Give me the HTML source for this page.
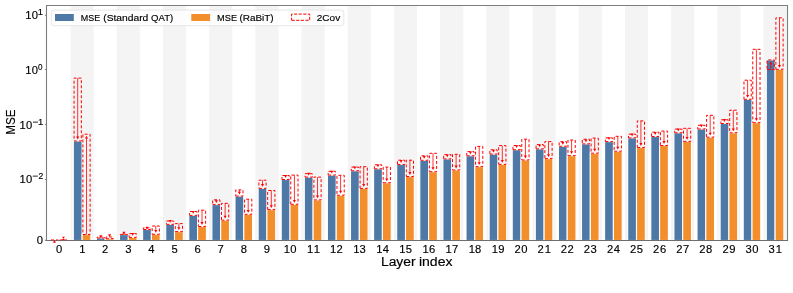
<!DOCTYPE html>
<html><head><meta charset="utf-8"><style>
html,body{margin:0;padding:0;background:#fff;}
body{width:793px;height:293px;overflow:hidden;}
svg{display:block;will-change:transform;font-family:"Liberation Sans",sans-serif;}
svg text{fill:#000;stroke:#000;stroke-width:0.15px;}
</style></head><body>
<svg width="793" height="293" viewBox="0 0 793 293">
<rect x="0" y="0" width="793" height="293" fill="#ffffff"/>
<defs><clipPath id="ax"><rect x="46.50" y="5.50" width="741.00" height="234.80"/></clipPath></defs>
<g clip-path="url(#ax)">
<rect x="70.55" y="5.50" width="23.10" height="234.80" fill="#f4f4f4"/>
<rect x="116.75" y="5.50" width="23.10" height="234.80" fill="#f4f4f4"/>
<rect x="162.95" y="5.50" width="23.10" height="234.80" fill="#f4f4f4"/>
<rect x="209.15" y="5.50" width="23.10" height="234.80" fill="#f4f4f4"/>
<rect x="255.35" y="5.50" width="23.10" height="234.80" fill="#f4f4f4"/>
<rect x="301.55" y="5.50" width="23.10" height="234.80" fill="#f4f4f4"/>
<rect x="347.75" y="5.50" width="23.10" height="234.80" fill="#f4f4f4"/>
<rect x="393.95" y="5.50" width="23.10" height="234.80" fill="#f4f4f4"/>
<rect x="440.15" y="5.50" width="23.10" height="234.80" fill="#f4f4f4"/>
<rect x="486.35" y="5.50" width="23.10" height="234.80" fill="#f4f4f4"/>
<rect x="532.55" y="5.50" width="23.10" height="234.80" fill="#f4f4f4"/>
<rect x="578.75" y="5.50" width="23.10" height="234.80" fill="#f4f4f4"/>
<rect x="624.95" y="5.50" width="23.10" height="234.80" fill="#f4f4f4"/>
<rect x="671.15" y="5.50" width="23.10" height="234.80" fill="#f4f4f4"/>
<rect x="717.35" y="5.50" width="23.10" height="234.80" fill="#f4f4f4"/>
<rect x="763.55" y="5.50" width="23.10" height="234.80" fill="#f4f4f4"/>
<rect x="73.30" y="141.00" width="8.80" height="99.50" fill="#4e79a7" stroke="#fff" stroke-width="1.1"/>
<rect x="82.10" y="234.50" width="8.80" height="6.00" fill="#f28e2b" stroke="#fff" stroke-width="1.1"/>
<rect x="96.40" y="238.00" width="8.80" height="2.50" fill="#4e79a7" stroke="#fff" stroke-width="1.1"/>
<rect x="105.20" y="238.70" width="8.80" height="1.80" fill="#f28e2b" stroke="#fff" stroke-width="1.1"/>
<rect x="119.50" y="234.60" width="8.80" height="5.90" fill="#4e79a7" stroke="#fff" stroke-width="1.1"/>
<rect x="128.30" y="237.40" width="8.80" height="3.10" fill="#f28e2b" stroke="#fff" stroke-width="1.1"/>
<rect x="142.60" y="229.50" width="8.80" height="11.00" fill="#4e79a7" stroke="#fff" stroke-width="1.1"/>
<rect x="151.40" y="234.30" width="8.80" height="6.20" fill="#f28e2b" stroke="#fff" stroke-width="1.1"/>
<rect x="165.70" y="224.40" width="8.80" height="16.10" fill="#4e79a7" stroke="#fff" stroke-width="1.1"/>
<rect x="174.50" y="231.60" width="8.80" height="8.90" fill="#f28e2b" stroke="#fff" stroke-width="1.1"/>
<rect x="188.80" y="215.40" width="8.80" height="25.10" fill="#4e79a7" stroke="#fff" stroke-width="1.1"/>
<rect x="197.60" y="226.50" width="8.80" height="14.00" fill="#f28e2b" stroke="#fff" stroke-width="1.1"/>
<rect x="211.90" y="204.60" width="8.80" height="35.90" fill="#4e79a7" stroke="#fff" stroke-width="1.1"/>
<rect x="220.70" y="220.20" width="8.80" height="20.30" fill="#f28e2b" stroke="#fff" stroke-width="1.1"/>
<rect x="235.00" y="196.10" width="8.80" height="44.40" fill="#4e79a7" stroke="#fff" stroke-width="1.1"/>
<rect x="243.80" y="214.30" width="8.80" height="26.20" fill="#f28e2b" stroke="#fff" stroke-width="1.1"/>
<rect x="258.10" y="188.40" width="8.80" height="52.10" fill="#4e79a7" stroke="#fff" stroke-width="1.1"/>
<rect x="266.90" y="209.60" width="8.80" height="30.90" fill="#f28e2b" stroke="#fff" stroke-width="1.1"/>
<rect x="281.20" y="179.50" width="8.80" height="61.00" fill="#4e79a7" stroke="#fff" stroke-width="1.1"/>
<rect x="290.00" y="204.30" width="8.80" height="36.20" fill="#f28e2b" stroke="#fff" stroke-width="1.1"/>
<rect x="304.30" y="177.10" width="8.80" height="63.40" fill="#4e79a7" stroke="#fff" stroke-width="1.1"/>
<rect x="313.10" y="199.90" width="8.80" height="40.60" fill="#f28e2b" stroke="#fff" stroke-width="1.1"/>
<rect x="327.40" y="175.10" width="8.80" height="65.40" fill="#4e79a7" stroke="#fff" stroke-width="1.1"/>
<rect x="336.20" y="195.20" width="8.80" height="45.30" fill="#f28e2b" stroke="#fff" stroke-width="1.1"/>
<rect x="350.50" y="170.80" width="8.80" height="69.70" fill="#4e79a7" stroke="#fff" stroke-width="1.1"/>
<rect x="359.30" y="188.40" width="8.80" height="52.10" fill="#f28e2b" stroke="#fff" stroke-width="1.1"/>
<rect x="373.60" y="168.80" width="8.80" height="71.70" fill="#4e79a7" stroke="#fff" stroke-width="1.1"/>
<rect x="382.40" y="182.80" width="8.80" height="57.70" fill="#f28e2b" stroke="#fff" stroke-width="1.1"/>
<rect x="396.70" y="164.50" width="8.80" height="76.00" fill="#4e79a7" stroke="#fff" stroke-width="1.1"/>
<rect x="405.50" y="176.50" width="8.80" height="64.00" fill="#f28e2b" stroke="#fff" stroke-width="1.1"/>
<rect x="419.80" y="160.30" width="8.80" height="80.20" fill="#4e79a7" stroke="#fff" stroke-width="1.1"/>
<rect x="428.60" y="171.70" width="8.80" height="68.80" fill="#f28e2b" stroke="#fff" stroke-width="1.1"/>
<rect x="442.90" y="158.90" width="8.80" height="81.60" fill="#4e79a7" stroke="#fff" stroke-width="1.1"/>
<rect x="451.70" y="170.00" width="8.80" height="70.50" fill="#f28e2b" stroke="#fff" stroke-width="1.1"/>
<rect x="466.00" y="155.80" width="8.80" height="84.70" fill="#4e79a7" stroke="#fff" stroke-width="1.1"/>
<rect x="474.80" y="166.60" width="8.80" height="73.90" fill="#f28e2b" stroke="#fff" stroke-width="1.1"/>
<rect x="489.10" y="154.10" width="8.80" height="86.40" fill="#4e79a7" stroke="#fff" stroke-width="1.1"/>
<rect x="497.90" y="164.40" width="8.80" height="76.10" fill="#f28e2b" stroke="#fff" stroke-width="1.1"/>
<rect x="512.20" y="149.70" width="8.80" height="90.80" fill="#4e79a7" stroke="#fff" stroke-width="1.1"/>
<rect x="521.00" y="160.00" width="8.80" height="80.50" fill="#f28e2b" stroke="#fff" stroke-width="1.1"/>
<rect x="535.30" y="148.90" width="8.80" height="91.60" fill="#4e79a7" stroke="#fff" stroke-width="1.1"/>
<rect x="544.10" y="158.60" width="8.80" height="81.90" fill="#f28e2b" stroke="#fff" stroke-width="1.1"/>
<rect x="558.40" y="146.30" width="8.80" height="94.20" fill="#4e79a7" stroke="#fff" stroke-width="1.1"/>
<rect x="567.20" y="155.70" width="8.80" height="84.80" fill="#f28e2b" stroke="#fff" stroke-width="1.1"/>
<rect x="581.50" y="143.90" width="8.80" height="96.60" fill="#4e79a7" stroke="#fff" stroke-width="1.1"/>
<rect x="590.30" y="153.20" width="8.80" height="87.30" fill="#f28e2b" stroke="#fff" stroke-width="1.1"/>
<rect x="604.60" y="141.60" width="8.80" height="98.90" fill="#4e79a7" stroke="#fff" stroke-width="1.1"/>
<rect x="613.40" y="151.20" width="8.80" height="89.30" fill="#f28e2b" stroke="#fff" stroke-width="1.1"/>
<rect x="627.70" y="137.90" width="8.80" height="102.60" fill="#4e79a7" stroke="#fff" stroke-width="1.1"/>
<rect x="636.50" y="147.50" width="8.80" height="93.00" fill="#f28e2b" stroke="#fff" stroke-width="1.1"/>
<rect x="650.80" y="136.50" width="8.80" height="104.00" fill="#4e79a7" stroke="#fff" stroke-width="1.1"/>
<rect x="659.60" y="145.50" width="8.80" height="95.00" fill="#f28e2b" stroke="#fff" stroke-width="1.1"/>
<rect x="673.90" y="132.80" width="8.80" height="107.70" fill="#4e79a7" stroke="#fff" stroke-width="1.1"/>
<rect x="682.70" y="141.40" width="8.80" height="99.10" fill="#f28e2b" stroke="#fff" stroke-width="1.1"/>
<rect x="697.00" y="129.00" width="8.80" height="111.50" fill="#4e79a7" stroke="#fff" stroke-width="1.1"/>
<rect x="705.80" y="137.20" width="8.80" height="103.30" fill="#f28e2b" stroke="#fff" stroke-width="1.1"/>
<rect x="720.10" y="123.50" width="8.80" height="117.00" fill="#4e79a7" stroke="#fff" stroke-width="1.1"/>
<rect x="728.90" y="132.80" width="8.80" height="107.70" fill="#f28e2b" stroke="#fff" stroke-width="1.1"/>
<rect x="743.20" y="99.30" width="8.80" height="141.20" fill="#4e79a7" stroke="#fff" stroke-width="1.1"/>
<rect x="752.00" y="122.70" width="8.80" height="117.80" fill="#f28e2b" stroke="#fff" stroke-width="1.1"/>
<rect x="766.30" y="59.90" width="8.80" height="180.60" fill="#4e79a7" stroke="#fff" stroke-width="1.1"/>
<rect x="775.10" y="69.30" width="8.80" height="171.20" fill="#f28e2b" stroke="#fff" stroke-width="1.1"/>
</g>
<path d="M46.50 241.00L46.50 5.50L787.50 5.50L787.50 241.00" fill="none" stroke="#7d7d7d" stroke-width="1.1"/>
<line x1="45.95" y1="240.5" x2="788.05" y2="240.5" stroke="#6e6e6e" stroke-width="1.05"/>
<path d="M74.07 141.00L81.32 141.00L81.32 78.10L74.07 78.10Z" fill="none" stroke="#ff0000" stroke-width="1" stroke-dasharray="3 2"/>
<line x1="77.70" y1="78.10" x2="77.70" y2="137.10" stroke="#ff0000" stroke-width="0.8"/>
<path d="M76.15 136.60L79.25 136.60L77.70 139.40Z" fill="#ff0000"/>
<path d="M82.88 234.50L90.12 234.50L90.12 134.20L82.88 134.20Z" fill="none" stroke="#ff0000" stroke-width="1" stroke-dasharray="3 2"/>
<line x1="86.50" y1="234.50" x2="86.50" y2="138.10" stroke="#ff0000" stroke-width="0.8"/>
<path d="M84.95 138.60L88.05 138.60L86.50 135.80Z" fill="#ff0000"/>
<path d="M97.17 238.00L104.42 238.00L104.42 237.00L97.17 237.00Z" fill="none" stroke="#ff0000" stroke-width="1" stroke-dasharray="3 2"/>
<path d="M99.25 235.20L102.35 235.20L100.80 238.00Z" fill="#ff0000"/>
<path d="M105.98 238.70L113.23 238.70L113.23 237.00L105.98 237.00Z" fill="none" stroke="#ff0000" stroke-width="1" stroke-dasharray="3 2"/>
<path d="M108.05 234.30L111.15 234.30L109.60 237.10Z" fill="#ff0000"/>
<path d="M120.28 234.60L127.53 234.60L127.53 234.00L120.28 234.00Z" fill="none" stroke="#ff0000" stroke-width="1" stroke-dasharray="3 2"/>
<path d="M122.35 231.80L125.45 231.80L123.90 234.60Z" fill="#ff0000"/>
<path d="M129.08 237.40L136.33 237.40L136.33 233.60L129.08 233.60Z" fill="none" stroke="#ff0000" stroke-width="1" stroke-dasharray="3 2"/>
<path d="M131.15 233.00L134.25 233.00L132.70 235.80Z" fill="#ff0000"/>
<path d="M143.38 229.50L150.62 229.50L150.62 227.90L143.38 227.90Z" fill="none" stroke="#ff0000" stroke-width="1" stroke-dasharray="3 2"/>
<path d="M145.45 226.70L148.55 226.70L147.00 229.50Z" fill="#ff0000"/>
<path d="M152.18 234.30L159.43 234.30L159.43 226.00L152.18 226.00Z" fill="none" stroke="#ff0000" stroke-width="1" stroke-dasharray="3 2"/>
<line x1="155.80" y1="226.00" x2="155.80" y2="230.40" stroke="#ff0000" stroke-width="0.8"/>
<path d="M154.25 229.90L157.35 229.90L155.80 232.70Z" fill="#ff0000"/>
<path d="M166.47 224.40L173.72 224.40L173.72 221.00L166.47 221.00Z" fill="none" stroke="#ff0000" stroke-width="1" stroke-dasharray="3 2"/>
<path d="M168.55 220.00L171.65 220.00L170.10 222.80Z" fill="#ff0000"/>
<path d="M175.28 231.60L182.53 231.60L182.53 223.60L175.28 223.60Z" fill="none" stroke="#ff0000" stroke-width="1" stroke-dasharray="3 2"/>
<line x1="178.90" y1="223.60" x2="178.90" y2="227.70" stroke="#ff0000" stroke-width="0.8"/>
<path d="M177.35 227.20L180.45 227.20L178.90 230.00Z" fill="#ff0000"/>
<path d="M189.58 215.40L196.83 215.40L196.83 211.50L189.58 211.50Z" fill="none" stroke="#ff0000" stroke-width="1" stroke-dasharray="3 2"/>
<path d="M191.65 211.00L194.75 211.00L193.20 213.80Z" fill="#ff0000"/>
<path d="M198.38 226.50L205.63 226.50L205.63 210.20L198.38 210.20Z" fill="none" stroke="#ff0000" stroke-width="1" stroke-dasharray="3 2"/>
<line x1="202.00" y1="210.20" x2="202.00" y2="222.60" stroke="#ff0000" stroke-width="0.8"/>
<path d="M200.45 222.10L203.55 222.10L202.00 224.90Z" fill="#ff0000"/>
<path d="M212.68 204.60L219.93 204.60L219.93 199.80L212.68 199.80Z" fill="none" stroke="#ff0000" stroke-width="1" stroke-dasharray="3 2"/>
<line x1="216.30" y1="199.80" x2="216.30" y2="200.70" stroke="#ff0000" stroke-width="0.8"/>
<path d="M214.75 200.20L217.85 200.20L216.30 203.00Z" fill="#ff0000"/>
<path d="M221.48 220.20L228.73 220.20L228.73 203.30L221.48 203.30Z" fill="none" stroke="#ff0000" stroke-width="1" stroke-dasharray="3 2"/>
<line x1="225.10" y1="203.30" x2="225.10" y2="216.30" stroke="#ff0000" stroke-width="0.8"/>
<path d="M223.55 215.80L226.65 215.80L225.10 218.60Z" fill="#ff0000"/>
<path d="M235.78 196.10L243.03 196.10L243.03 189.90L235.78 189.90Z" fill="none" stroke="#ff0000" stroke-width="1" stroke-dasharray="3 2"/>
<line x1="239.40" y1="189.90" x2="239.40" y2="192.20" stroke="#ff0000" stroke-width="0.8"/>
<path d="M237.85 191.70L240.95 191.70L239.40 194.50Z" fill="#ff0000"/>
<path d="M244.58 214.30L251.83 214.30L251.83 199.20L244.58 199.20Z" fill="none" stroke="#ff0000" stroke-width="1" stroke-dasharray="3 2"/>
<line x1="248.20" y1="199.20" x2="248.20" y2="210.40" stroke="#ff0000" stroke-width="0.8"/>
<path d="M246.65 209.90L249.75 209.90L248.20 212.70Z" fill="#ff0000"/>
<path d="M258.88 188.40L266.12 188.40L266.12 180.20L258.88 180.20Z" fill="none" stroke="#ff0000" stroke-width="1" stroke-dasharray="3 2"/>
<line x1="262.50" y1="180.20" x2="262.50" y2="184.50" stroke="#ff0000" stroke-width="0.8"/>
<path d="M260.95 184.00L264.05 184.00L262.50 186.80Z" fill="#ff0000"/>
<path d="M267.67 209.60L274.92 209.60L274.92 190.50L267.67 190.50Z" fill="none" stroke="#ff0000" stroke-width="1" stroke-dasharray="3 2"/>
<line x1="271.30" y1="190.50" x2="271.30" y2="205.70" stroke="#ff0000" stroke-width="0.8"/>
<path d="M269.75 205.20L272.85 205.20L271.30 208.00Z" fill="#ff0000"/>
<path d="M281.98 179.50L289.23 179.50L289.23 175.50L281.98 175.50Z" fill="none" stroke="#ff0000" stroke-width="1" stroke-dasharray="3 2"/>
<path d="M284.05 175.10L287.15 175.10L285.60 177.90Z" fill="#ff0000"/>
<path d="M290.77 204.30L298.02 204.30L298.02 175.10L290.77 175.10Z" fill="none" stroke="#ff0000" stroke-width="1" stroke-dasharray="3 2"/>
<line x1="294.40" y1="175.10" x2="294.40" y2="200.40" stroke="#ff0000" stroke-width="0.8"/>
<path d="M292.85 199.90L295.95 199.90L294.40 202.70Z" fill="#ff0000"/>
<path d="M305.08 177.10L312.33 177.10L312.33 173.70L305.08 173.70Z" fill="none" stroke="#ff0000" stroke-width="1" stroke-dasharray="3 2"/>
<path d="M307.15 172.70L310.25 172.70L308.70 175.50Z" fill="#ff0000"/>
<path d="M313.88 199.90L321.12 199.90L321.12 177.10L313.88 177.10Z" fill="none" stroke="#ff0000" stroke-width="1" stroke-dasharray="3 2"/>
<line x1="317.50" y1="177.10" x2="317.50" y2="196.00" stroke="#ff0000" stroke-width="0.8"/>
<path d="M315.95 195.50L319.05 195.50L317.50 198.30Z" fill="#ff0000"/>
<path d="M328.18 175.10L335.43 175.10L335.43 171.30L328.18 171.30Z" fill="none" stroke="#ff0000" stroke-width="1" stroke-dasharray="3 2"/>
<path d="M330.25 170.70L333.35 170.70L331.80 173.50Z" fill="#ff0000"/>
<path d="M336.98 195.20L344.23 195.20L344.23 175.30L336.98 175.30Z" fill="none" stroke="#ff0000" stroke-width="1" stroke-dasharray="3 2"/>
<line x1="340.60" y1="175.30" x2="340.60" y2="191.30" stroke="#ff0000" stroke-width="0.8"/>
<path d="M339.05 190.80L342.15 190.80L340.60 193.60Z" fill="#ff0000"/>
<path d="M351.28 170.80L358.53 170.80L358.53 167.10L351.28 167.10Z" fill="none" stroke="#ff0000" stroke-width="1" stroke-dasharray="3 2"/>
<path d="M353.35 166.40L356.45 166.40L354.90 169.20Z" fill="#ff0000"/>
<path d="M360.07 188.40L367.32 188.40L367.32 166.70L360.07 166.70Z" fill="none" stroke="#ff0000" stroke-width="1" stroke-dasharray="3 2"/>
<line x1="363.70" y1="166.70" x2="363.70" y2="184.50" stroke="#ff0000" stroke-width="0.8"/>
<path d="M362.15 184.00L365.25 184.00L363.70 186.80Z" fill="#ff0000"/>
<path d="M374.38 168.80L381.63 168.80L381.63 164.80L374.38 164.80Z" fill="none" stroke="#ff0000" stroke-width="1" stroke-dasharray="3 2"/>
<path d="M376.45 164.40L379.55 164.40L378.00 167.20Z" fill="#ff0000"/>
<path d="M383.18 182.80L390.43 182.80L390.43 167.10L383.18 167.10Z" fill="none" stroke="#ff0000" stroke-width="1" stroke-dasharray="3 2"/>
<line x1="386.80" y1="167.10" x2="386.80" y2="178.90" stroke="#ff0000" stroke-width="0.8"/>
<path d="M385.25 178.40L388.35 178.40L386.80 181.20Z" fill="#ff0000"/>
<path d="M397.48 164.50L404.73 164.50L404.73 160.20L397.48 160.20Z" fill="none" stroke="#ff0000" stroke-width="1" stroke-dasharray="3 2"/>
<path d="M399.55 160.10L402.65 160.10L401.10 162.90Z" fill="#ff0000"/>
<path d="M406.27 176.50L413.52 176.50L413.52 160.20L406.27 160.20Z" fill="none" stroke="#ff0000" stroke-width="1" stroke-dasharray="3 2"/>
<line x1="409.90" y1="160.20" x2="409.90" y2="172.60" stroke="#ff0000" stroke-width="0.8"/>
<path d="M408.35 172.10L411.45 172.10L409.90 174.90Z" fill="#ff0000"/>
<path d="M420.58 160.30L427.83 160.30L427.83 155.80L420.58 155.80Z" fill="none" stroke="#ff0000" stroke-width="1" stroke-dasharray="3 2"/>
<line x1="424.20" y1="155.80" x2="424.20" y2="156.40" stroke="#ff0000" stroke-width="0.8"/>
<path d="M422.65 155.90L425.75 155.90L424.20 158.70Z" fill="#ff0000"/>
<path d="M429.38 171.70L436.62 171.70L436.62 153.30L429.38 153.30Z" fill="none" stroke="#ff0000" stroke-width="1" stroke-dasharray="3 2"/>
<line x1="433.00" y1="153.30" x2="433.00" y2="167.80" stroke="#ff0000" stroke-width="0.8"/>
<path d="M431.45 167.30L434.55 167.30L433.00 170.10Z" fill="#ff0000"/>
<path d="M443.68 158.90L450.93 158.90L450.93 154.60L443.68 154.60Z" fill="none" stroke="#ff0000" stroke-width="1" stroke-dasharray="3 2"/>
<path d="M445.75 154.50L448.85 154.50L447.30 157.30Z" fill="#ff0000"/>
<path d="M452.48 170.00L459.73 170.00L459.73 154.30L452.48 154.30Z" fill="none" stroke="#ff0000" stroke-width="1" stroke-dasharray="3 2"/>
<line x1="456.10" y1="154.30" x2="456.10" y2="166.10" stroke="#ff0000" stroke-width="0.8"/>
<path d="M454.55 165.60L457.65 165.60L456.10 168.40Z" fill="#ff0000"/>
<path d="M466.78 155.80L474.03 155.80L474.03 151.60L466.78 151.60Z" fill="none" stroke="#ff0000" stroke-width="1" stroke-dasharray="3 2"/>
<path d="M468.85 151.40L471.95 151.40L470.40 154.20Z" fill="#ff0000"/>
<path d="M475.57 166.60L482.82 166.60L482.82 146.40L475.57 146.40Z" fill="none" stroke="#ff0000" stroke-width="1" stroke-dasharray="3 2"/>
<line x1="479.20" y1="146.40" x2="479.20" y2="162.70" stroke="#ff0000" stroke-width="0.8"/>
<path d="M477.65 162.20L480.75 162.20L479.20 165.00Z" fill="#ff0000"/>
<path d="M489.88 154.10L497.13 154.10L497.13 149.80L489.88 149.80Z" fill="none" stroke="#ff0000" stroke-width="1" stroke-dasharray="3 2"/>
<path d="M491.95 149.70L495.05 149.70L493.50 152.50Z" fill="#ff0000"/>
<path d="M498.68 164.40L505.93 164.40L505.93 145.60L498.68 145.60Z" fill="none" stroke="#ff0000" stroke-width="1" stroke-dasharray="3 2"/>
<line x1="502.30" y1="145.60" x2="502.30" y2="160.50" stroke="#ff0000" stroke-width="0.8"/>
<path d="M500.75 160.00L503.85 160.00L502.30 162.80Z" fill="#ff0000"/>
<path d="M512.98 149.70L520.23 149.70L520.23 145.50L512.98 145.50Z" fill="none" stroke="#ff0000" stroke-width="1" stroke-dasharray="3 2"/>
<path d="M515.05 145.30L518.15 145.30L516.60 148.10Z" fill="#ff0000"/>
<path d="M521.77 160.00L529.02 160.00L529.02 139.20L521.77 139.20Z" fill="none" stroke="#ff0000" stroke-width="1" stroke-dasharray="3 2"/>
<line x1="525.40" y1="139.20" x2="525.40" y2="156.10" stroke="#ff0000" stroke-width="0.8"/>
<path d="M523.85 155.60L526.95 155.60L525.40 158.40Z" fill="#ff0000"/>
<path d="M536.08 148.90L543.33 148.90L543.33 144.60L536.08 144.60Z" fill="none" stroke="#ff0000" stroke-width="1" stroke-dasharray="3 2"/>
<path d="M538.15 144.50L541.25 144.50L539.70 147.30Z" fill="#ff0000"/>
<path d="M544.88 158.60L552.12 158.60L552.12 141.60L544.88 141.60Z" fill="none" stroke="#ff0000" stroke-width="1" stroke-dasharray="3 2"/>
<line x1="548.50" y1="141.60" x2="548.50" y2="154.70" stroke="#ff0000" stroke-width="0.8"/>
<path d="M546.95 154.20L550.05 154.20L548.50 157.00Z" fill="#ff0000"/>
<path d="M559.18 146.30L566.43 146.30L566.43 141.60L559.18 141.60Z" fill="none" stroke="#ff0000" stroke-width="1" stroke-dasharray="3 2"/>
<line x1="562.80" y1="141.60" x2="562.80" y2="142.40" stroke="#ff0000" stroke-width="0.8"/>
<path d="M561.25 141.90L564.35 141.90L562.80 144.70Z" fill="#ff0000"/>
<path d="M567.98 155.70L575.23 155.70L575.23 140.00L567.98 140.00Z" fill="none" stroke="#ff0000" stroke-width="1" stroke-dasharray="3 2"/>
<line x1="571.60" y1="140.00" x2="571.60" y2="151.80" stroke="#ff0000" stroke-width="0.8"/>
<path d="M570.05 151.30L573.15 151.30L571.60 154.10Z" fill="#ff0000"/>
<path d="M582.28 143.90L589.53 143.90L589.53 139.20L582.28 139.20Z" fill="none" stroke="#ff0000" stroke-width="1" stroke-dasharray="3 2"/>
<line x1="585.90" y1="139.20" x2="585.90" y2="140.00" stroke="#ff0000" stroke-width="0.8"/>
<path d="M584.35 139.50L587.45 139.50L585.90 142.30Z" fill="#ff0000"/>
<path d="M591.08 153.20L598.33 153.20L598.33 138.10L591.08 138.10Z" fill="none" stroke="#ff0000" stroke-width="1" stroke-dasharray="3 2"/>
<line x1="594.70" y1="138.10" x2="594.70" y2="149.30" stroke="#ff0000" stroke-width="0.8"/>
<path d="M593.15 148.80L596.25 148.80L594.70 151.60Z" fill="#ff0000"/>
<path d="M605.38 141.60L612.63 141.60L612.63 137.90L605.38 137.90Z" fill="none" stroke="#ff0000" stroke-width="1" stroke-dasharray="3 2"/>
<path d="M607.45 137.20L610.55 137.20L609.00 140.00Z" fill="#ff0000"/>
<path d="M614.18 151.20L621.43 151.20L621.43 136.30L614.18 136.30Z" fill="none" stroke="#ff0000" stroke-width="1" stroke-dasharray="3 2"/>
<line x1="617.80" y1="136.30" x2="617.80" y2="147.30" stroke="#ff0000" stroke-width="0.8"/>
<path d="M616.25 146.80L619.35 146.80L617.80 149.60Z" fill="#ff0000"/>
<path d="M628.48 137.90L635.73 137.90L635.73 134.20L628.48 134.20Z" fill="none" stroke="#ff0000" stroke-width="1" stroke-dasharray="3 2"/>
<path d="M630.55 133.50L633.65 133.50L632.10 136.30Z" fill="#ff0000"/>
<path d="M637.27 147.50L644.52 147.50L644.52 120.90L637.27 120.90Z" fill="none" stroke="#ff0000" stroke-width="1" stroke-dasharray="3 2"/>
<line x1="640.90" y1="120.90" x2="640.90" y2="143.60" stroke="#ff0000" stroke-width="0.8"/>
<path d="M639.35 143.10L642.45 143.10L640.90 145.90Z" fill="#ff0000"/>
<path d="M651.58 136.50L658.83 136.50L658.83 132.20L651.58 132.20Z" fill="none" stroke="#ff0000" stroke-width="1" stroke-dasharray="3 2"/>
<path d="M653.65 132.10L656.75 132.10L655.20 134.90Z" fill="#ff0000"/>
<path d="M660.38 145.50L667.62 145.50L667.62 131.10L660.38 131.10Z" fill="none" stroke="#ff0000" stroke-width="1" stroke-dasharray="3 2"/>
<line x1="664.00" y1="131.10" x2="664.00" y2="141.60" stroke="#ff0000" stroke-width="0.8"/>
<path d="M662.45 141.10L665.55 141.10L664.00 143.90Z" fill="#ff0000"/>
<path d="M674.68 132.80L681.93 132.80L681.93 129.10L674.68 129.10Z" fill="none" stroke="#ff0000" stroke-width="1" stroke-dasharray="3 2"/>
<path d="M676.75 128.40L679.85 128.40L678.30 131.20Z" fill="#ff0000"/>
<path d="M683.48 141.40L690.73 141.40L690.73 128.30L683.48 128.30Z" fill="none" stroke="#ff0000" stroke-width="1" stroke-dasharray="3 2"/>
<line x1="687.10" y1="128.30" x2="687.10" y2="137.50" stroke="#ff0000" stroke-width="0.8"/>
<path d="M685.55 137.00L688.65 137.00L687.10 139.80Z" fill="#ff0000"/>
<path d="M697.78 129.00L705.03 129.00L705.03 125.30L697.78 125.30Z" fill="none" stroke="#ff0000" stroke-width="1" stroke-dasharray="3 2"/>
<path d="M699.85 124.60L702.95 124.60L701.40 127.40Z" fill="#ff0000"/>
<path d="M706.58 137.20L713.83 137.20L713.83 115.30L706.58 115.30Z" fill="none" stroke="#ff0000" stroke-width="1" stroke-dasharray="3 2"/>
<line x1="710.20" y1="115.30" x2="710.20" y2="133.30" stroke="#ff0000" stroke-width="0.8"/>
<path d="M708.65 132.80L711.75 132.80L710.20 135.60Z" fill="#ff0000"/>
<path d="M720.88 123.50L728.13 123.50L728.13 119.80L720.88 119.80Z" fill="none" stroke="#ff0000" stroke-width="1" stroke-dasharray="3 2"/>
<path d="M722.95 119.10L726.05 119.10L724.50 121.90Z" fill="#ff0000"/>
<path d="M729.68 132.80L736.93 132.80L736.93 110.20L729.68 110.20Z" fill="none" stroke="#ff0000" stroke-width="1" stroke-dasharray="3 2"/>
<line x1="733.30" y1="110.20" x2="733.30" y2="128.90" stroke="#ff0000" stroke-width="0.8"/>
<path d="M731.75 128.40L734.85 128.40L733.30 131.20Z" fill="#ff0000"/>
<path d="M743.98 99.30L751.23 99.30L751.23 80.20L743.98 80.20Z" fill="none" stroke="#ff0000" stroke-width="1" stroke-dasharray="3 2"/>
<line x1="747.60" y1="80.20" x2="747.60" y2="95.40" stroke="#ff0000" stroke-width="0.8"/>
<path d="M746.05 94.90L749.15 94.90L747.60 97.70Z" fill="#ff0000"/>
<path d="M752.77 122.70L760.02 122.70L760.02 49.30L752.77 49.30Z" fill="none" stroke="#ff0000" stroke-width="1" stroke-dasharray="3 2"/>
<line x1="756.40" y1="49.30" x2="756.40" y2="118.80" stroke="#ff0000" stroke-width="0.8"/>
<path d="M754.85 118.30L757.95 118.30L756.40 121.10Z" fill="#ff0000"/>
<path d="M767.08 69.60L774.33 69.60L774.33 59.90L767.08 59.90Z" fill="none" stroke="#ff0000" stroke-width="1" stroke-dasharray="3 2"/>
<line x1="770.70" y1="69.60" x2="770.70" y2="63.80" stroke="#ff0000" stroke-width="0.8"/>
<path d="M769.15 64.30L772.25 64.30L770.70 61.50Z" fill="#ff0000"/>
<path d="M775.88 69.30L783.12 69.30L783.12 17.80L775.88 17.80Z" fill="none" stroke="#ff0000" stroke-width="1" stroke-dasharray="3 2"/>
<line x1="779.50" y1="17.80" x2="779.50" y2="65.40" stroke="#ff0000" stroke-width="0.8"/>
<path d="M777.95 64.90L781.05 64.90L779.50 67.70Z" fill="#ff0000"/>
<path d="M51.0 239.8L58.3 239.8M59.7 239.8L67.0 239.8" fill="none" stroke="#ff0000" stroke-width="1" stroke-dasharray="3 2" opacity="0.75"/>
<path d="M52.9 242.8L56.0 242.8L54.45 240.0Z" fill="#ff0000"/>
<path d="M61.8 236.8L65.1 236.8L63.45 238.4L65.1 240.1L61.8 240.1L63.45 238.4Z" fill="#ff0000"/>
<text transform="translate(59.00,253.10) scale(1.030,1)" font-size="10.90" text-anchor="middle">0</text>
<text transform="translate(82.45,253.10) scale(1.030,1)" font-size="10.90" text-anchor="middle">1</text>
<text transform="translate(105.20,253.10) scale(1.030,1)" font-size="10.90" text-anchor="middle">2</text>
<text transform="translate(128.30,253.10) scale(1.030,1)" font-size="10.90" text-anchor="middle">3</text>
<text transform="translate(151.40,253.10) scale(1.030,1)" font-size="10.90" text-anchor="middle">4</text>
<text transform="translate(174.50,253.10) scale(1.030,1)" font-size="10.90" text-anchor="middle">5</text>
<text transform="translate(197.60,253.10) scale(1.030,1)" font-size="10.90" text-anchor="middle">6</text>
<text transform="translate(220.70,253.10) scale(1.030,1)" font-size="10.90" text-anchor="middle">7</text>
<text transform="translate(243.80,253.10) scale(1.030,1)" font-size="10.90" text-anchor="middle">8</text>
<text transform="translate(266.90,253.10) scale(1.030,1)" font-size="10.90" text-anchor="middle">9</text>
<text transform="translate(286.95,253.10) scale(1.030,1)" font-size="10.90" text-anchor="middle">1</text>
<text transform="translate(293.40,253.10) scale(1.030,1)" font-size="10.90" text-anchor="middle">0</text>
<text transform="translate(310.05,253.10) scale(1.030,1)" font-size="10.90" text-anchor="middle">1</text>
<text transform="translate(316.85,253.10) scale(1.030,1)" font-size="10.90" text-anchor="middle">1</text>
<text transform="translate(333.15,253.10) scale(1.030,1)" font-size="10.90" text-anchor="middle">1</text>
<text transform="translate(339.60,253.10) scale(1.030,1)" font-size="10.90" text-anchor="middle">2</text>
<text transform="translate(356.25,253.10) scale(1.030,1)" font-size="10.90" text-anchor="middle">1</text>
<text transform="translate(362.70,253.10) scale(1.030,1)" font-size="10.90" text-anchor="middle">3</text>
<text transform="translate(379.35,253.10) scale(1.030,1)" font-size="10.90" text-anchor="middle">1</text>
<text transform="translate(385.80,253.10) scale(1.030,1)" font-size="10.90" text-anchor="middle">4</text>
<text transform="translate(402.45,253.10) scale(1.030,1)" font-size="10.90" text-anchor="middle">1</text>
<text transform="translate(408.90,253.10) scale(1.030,1)" font-size="10.90" text-anchor="middle">5</text>
<text transform="translate(425.55,253.10) scale(1.030,1)" font-size="10.90" text-anchor="middle">1</text>
<text transform="translate(432.00,253.10) scale(1.030,1)" font-size="10.90" text-anchor="middle">6</text>
<text transform="translate(448.65,253.10) scale(1.030,1)" font-size="10.90" text-anchor="middle">1</text>
<text transform="translate(455.10,253.10) scale(1.030,1)" font-size="10.90" text-anchor="middle">7</text>
<text transform="translate(471.75,253.10) scale(1.030,1)" font-size="10.90" text-anchor="middle">1</text>
<text transform="translate(478.20,253.10) scale(1.030,1)" font-size="10.90" text-anchor="middle">8</text>
<text transform="translate(494.85,253.10) scale(1.030,1)" font-size="10.90" text-anchor="middle">1</text>
<text transform="translate(501.30,253.10) scale(1.030,1)" font-size="10.90" text-anchor="middle">9</text>
<text transform="translate(517.60,253.10) scale(1.030,1)" font-size="10.90" text-anchor="middle">2</text>
<text transform="translate(524.40,253.10) scale(1.030,1)" font-size="10.90" text-anchor="middle">0</text>
<text transform="translate(540.70,253.10) scale(1.030,1)" font-size="10.90" text-anchor="middle">2</text>
<text transform="translate(547.85,253.10) scale(1.030,1)" font-size="10.90" text-anchor="middle">1</text>
<text transform="translate(563.80,253.10) scale(1.030,1)" font-size="10.90" text-anchor="middle">2</text>
<text transform="translate(570.60,253.10) scale(1.030,1)" font-size="10.90" text-anchor="middle">2</text>
<text transform="translate(586.90,253.10) scale(1.030,1)" font-size="10.90" text-anchor="middle">2</text>
<text transform="translate(593.70,253.10) scale(1.030,1)" font-size="10.90" text-anchor="middle">3</text>
<text transform="translate(610.00,253.10) scale(1.030,1)" font-size="10.90" text-anchor="middle">2</text>
<text transform="translate(616.80,253.10) scale(1.030,1)" font-size="10.90" text-anchor="middle">4</text>
<text transform="translate(633.10,253.10) scale(1.030,1)" font-size="10.90" text-anchor="middle">2</text>
<text transform="translate(639.90,253.10) scale(1.030,1)" font-size="10.90" text-anchor="middle">5</text>
<text transform="translate(656.20,253.10) scale(1.030,1)" font-size="10.90" text-anchor="middle">2</text>
<text transform="translate(663.00,253.10) scale(1.030,1)" font-size="10.90" text-anchor="middle">6</text>
<text transform="translate(679.30,253.10) scale(1.030,1)" font-size="10.90" text-anchor="middle">2</text>
<text transform="translate(686.10,253.10) scale(1.030,1)" font-size="10.90" text-anchor="middle">7</text>
<text transform="translate(702.40,253.10) scale(1.030,1)" font-size="10.90" text-anchor="middle">2</text>
<text transform="translate(709.20,253.10) scale(1.030,1)" font-size="10.90" text-anchor="middle">8</text>
<text transform="translate(725.50,253.10) scale(1.030,1)" font-size="10.90" text-anchor="middle">2</text>
<text transform="translate(732.30,253.10) scale(1.030,1)" font-size="10.90" text-anchor="middle">9</text>
<text transform="translate(748.60,253.10) scale(1.030,1)" font-size="10.90" text-anchor="middle">3</text>
<text transform="translate(755.40,253.10) scale(1.030,1)" font-size="10.90" text-anchor="middle">0</text>
<text transform="translate(771.70,253.10) scale(1.030,1)" font-size="10.90" text-anchor="middle">3</text>
<text transform="translate(778.85,253.10) scale(1.030,1)" font-size="10.90" text-anchor="middle">1</text>
<line x1="44.9" y1="240.30" x2="46.5" y2="240.30" stroke="#7d7d7d" stroke-width="1"/>
<line x1="44.9" y1="179.50" x2="46.5" y2="179.50" stroke="#7d7d7d" stroke-width="1"/>
<line x1="44.9" y1="124.40" x2="46.5" y2="124.40" stroke="#7d7d7d" stroke-width="1"/>
<line x1="44.9" y1="69.50" x2="46.5" y2="69.50" stroke="#7d7d7d" stroke-width="1"/>
<line x1="44.9" y1="15.30" x2="46.5" y2="15.30" stroke="#7d7d7d" stroke-width="1"/>
<text transform="translate(39.85,243.90) scale(1.030,1)" font-size="10.90" text-anchor="middle">0</text>
<text transform="translate(28.30,19.10) scale(1.030,1)" font-size="10.90" text-anchor="middle">1</text>
<text transform="translate(34.75,19.10) scale(1.030,1)" font-size="10.90" text-anchor="middle">0</text>
<text transform="translate(28.30,73.80) scale(1.030,1)" font-size="10.90" text-anchor="middle">1</text>
<text transform="translate(34.75,73.80) scale(1.030,1)" font-size="10.90" text-anchor="middle">0</text>
<text transform="translate(22.70,128.80) scale(1.030,1)" font-size="10.90" text-anchor="middle">1</text>
<text transform="translate(29.15,128.80) scale(1.030,1)" font-size="10.90" text-anchor="middle">0</text>
<text transform="translate(22.70,183.10) scale(1.030,1)" font-size="10.90" text-anchor="middle">1</text>
<text transform="translate(29.15,183.10) scale(1.030,1)" font-size="10.90" text-anchor="middle">0</text>
<text transform="translate(40.35,14.60) scale(1.050,1)" font-size="9.00" text-anchor="middle">1</text>
<text transform="translate(40.25,69.70) scale(0.900,1)" font-size="9.00" text-anchor="middle">0</text>
<text transform="translate(35.40,124.70) scale(1.100,1)" font-size="9.00" text-anchor="middle">−</text>
<text transform="translate(40.50,124.70) scale(1.050,1)" font-size="9.00" text-anchor="middle">1</text>
<text transform="translate(35.25,178.70) scale(1.100,1)" font-size="9.00" text-anchor="middle">−</text>
<text transform="translate(40.85,178.70) scale(0.950,1)" font-size="9.00" text-anchor="middle">2</text>
<text x="380.94" y="266.30" font-size="12.5" textLength="34.73" lengthAdjust="spacingAndGlyphs">Layer</text>
<text x="418.94" y="266.30" font-size="12.5" textLength="33.57" lengthAdjust="spacingAndGlyphs">index</text>
<text transform="translate(15,122.0) rotate(-90) scale(0.935,1)" x="0" y="0" font-size="12.5" text-anchor="middle">MSE</text>
<rect x="51.3" y="10.1" width="292.5" height="15.6" rx="2.5" fill="#fff" fill-opacity="0.8" stroke="#e0e0e0" stroke-width="0.8"/>
<rect x="55" y="14" width="18.8" height="7" fill="#4e79a7"/>
<text x="80.75" y="20.55" font-size="8.9" textLength="19.40" lengthAdjust="spacingAndGlyphs">MSE</text>
<text x="103.24" y="20.55" font-size="8.9" textLength="45.11" lengthAdjust="spacingAndGlyphs">(Standard</text>
<text x="151.14" y="20.55" font-size="8.9" textLength="22.16" lengthAdjust="spacingAndGlyphs">QAT)</text>
<rect x="191.3" y="14" width="18.8" height="7" fill="#f28e2b"/>
<text x="217.13" y="20.55" font-size="8.9" textLength="19.93" lengthAdjust="spacingAndGlyphs">MSE</text>
<text x="239.47" y="20.55" font-size="8.9" textLength="34.19" lengthAdjust="spacingAndGlyphs">(RaBiT)</text>
<path d="M291.6 20.3L309.7 20.3L309.7 14.1L291.6 14.1Z" fill="none" stroke="#ff0000" stroke-width="1" stroke-dasharray="3.2 1.4"/>
<text x="316.77" y="20.55" font-size="8.9" textLength="23.43" lengthAdjust="spacingAndGlyphs">2Cov</text>
</svg>
</body></html>
